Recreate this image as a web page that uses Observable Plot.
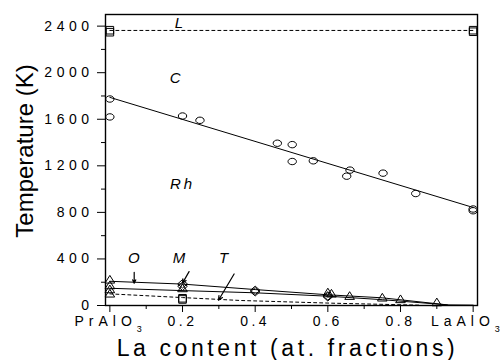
<!DOCTYPE html>
<html>
<head>
<meta charset="utf-8">
<script src="https://cdn.jsdelivr.net/npm/d3@7"></script>
<script src="https://cdn.jsdelivr.net/npm/@observablehq/plot@0.6"></script>
<style>
  html, body { margin: 0; padding: 0; background: #fff; }
  #chart svg { font-family: Arial, "Liberation Sans", sans-serif; color: #000; }
  g[aria-label="y-axis tick label"] text { font-size: 14px; letter-spacing: 4.5px; fill: #000; }
  g[aria-label="x-axis tick label"] text { font-size: 14px; letter-spacing: 3.5px; fill: #000; }
</style>
</head>
<body>
<div id="chart"></div>
<script>
// ---- axis ticks ----
const yMajor = [0, 400, 800, 1200, 1600, 2000, 2400];
const yMinor = [200, 600, 1000, 1400, 1800, 2200];
const xMajor = [0, 0.2, 0.4, 0.6, 0.8, 1.0];
const xMajorLabels = ["PrAlO3", "0.2", "0.4", "0.6", "0.8", "LaAlO3"];
const xMinor = [0.1, 0.3, 0.5, 0.7, 0.9];
const yTitle = "Temperature (K)";
const xTitle = "La content (at. fractions)";

// ---- liquidus (L) ----
const liqPtX = [0, 0, 1, 1];
const liqPtY = [2365, 2348, 2365, 2352];
const liqLineX = [0, 1];
const liqLineY = [2363, 2363];

// ---- cubic -> rhombohedral (circles) ----
const cPtX = [0, 0, 0.2, 0.248, 0.461, 0.502, 0.502, 0.56, 0.661, 0.652, 0.752, 0.842, 1.0, 1.0];
const cPtY = [1774, 1620, 1628, 1591, 1394, 1382, 1237, 1243, 1163, 1111, 1137, 962, 829, 814];
const cLineX = [0, 1];
const cLineY = [1788, 842];

// ---- low-temperature transitions ----
const triX = [0, 0, 0, 0, 0.2, 0.6, 0.61, 0.66, 0.75, 0.8, 0.9];
const triY = [220, 171, 137, 100, 146, 110, 100, 80, 66, 52, 25];
const diaX = [0.2, 0.2, 0.4, 0.4, 0.6, 0.6];
const diaY = [186, 165, 130, 118, 82, 75];
const sqX = [0.2, 0.2];
const sqY = [62, 52];

const upperX = [0, 0.2, 0.4, 0.6, 0.75, 0.93, 1.0];
const upperY = [208, 184, 137, 92, 66, 5, 3];
const lowerX = [0, 0.2, 0.4, 0.6, 0.75, 0.93];
const lowerY = [148, 128, 109, 80, 50, 5];
const dashX = [0, 0.2, 0.36, 0.61, 0.85];
const dashY = [100, 68, 43, 20, 3];

// ---- phase labels ----
const phaseText = ["L", "C", "Rh", "O", "M", "T"];
const phaseX = [0.19, 0.18, 0.2, 0.066, 0.19, 0.313];
const phaseY = [2425, 1956, 1043, 409, 409, 409];

// ---- arrows ----
const arrX1 = [0.067, 0.218, 0.342];
const arrY1 = [285, 291, 271];
const arrX2 = [0.067, 0.2, 0.299];
const arrY2 = [192, 192, 45];

const pts = (xs, ys) => xs.map((x, i) => ({x, y: ys[i]}));

const ellipse = {
  draw(ctx) {
    const rx = 4.2, ry = 3.2, k = 0.5523;
    ctx.moveTo(rx, 0);
    ctx.bezierCurveTo(rx, ry * k, rx * k, ry, 0, ry);
    ctx.bezierCurveTo(-rx * k, ry, -rx, ry * k, -rx, 0);
    ctx.bezierCurveTo(-rx, -ry * k, -rx * k, -ry, 0, -ry);
    ctx.bezierCurveTo(rx * k, -ry, rx, -ry * k, rx, 0);
    ctx.closePath();
  }
};
const diamond = {
  draw(ctx) {
    ctx.moveTo(0, -4.2); ctx.lineTo(4.8, 0); ctx.lineTo(0, 4.2); ctx.lineTo(-4.8, 0); ctx.closePath();
  }
};
const triangle = {
  draw(ctx) {
    ctx.moveTo(0, -4.5); ctx.lineTo(4.8, 3.2); ctx.lineTo(-4.8, 3.2); ctx.closePath();
  }
};
const square = {
  draw(ctx) {
    ctx.moveTo(-3.8, -3.8); ctx.lineTo(3.8, -3.8); ctx.lineTo(3.8, 3.8); ctx.lineTo(-3.8, 3.8); ctx.closePath();
  }
};

const labelMap = new Map(xMajor.map((d, i) => [d, xMajorLabels[i]]));

const chart = Plot.plot({
  width: 502,
  height: 360,
  marginLeft: 105,
  marginRight: 25,
  marginTop: 14,
  marginBottom: 55,
  x: {domain: [-0.012, 1.012]},
  y: {domain: [0, 2500]},
  style: {background: "#fff", color: "#000", fontFamily: "Arial, 'Liberation Sans', sans-serif"},
  marks: [
    Plot.axisY(yMinor, {tickSize: 4, tickFormat: () => "", label: null, stroke: "#000"}),
    Plot.axisY(yMajor, {tickSize: 8, tickPadding: 4, tickFormat: d => String(d), stroke: "#000", label: null}),
    Plot.axisX(xMinor, {tickSize: 4, tickFormat: () => "", label: null, stroke: "#000"}),
    Plot.axisX(xMajor, {tickSize: 7, tickPadding: 4, tickFormat: d => labelMap.get(d), stroke: "#000", label: null}),
    Plot.frame({stroke: "#000", strokeWidth: 1.4}),
    Plot.line(pts(liqLineX, liqLineY), {x: "x", y: "y", stroke: "#000", strokeWidth: 1, strokeDasharray: "3,3"}),
    Plot.line(pts(cLineX, cLineY), {x: "x", y: "y", stroke: "#000", strokeWidth: 1}),
    Plot.line(pts(upperX, upperY), {x: "x", y: "y", stroke: "#000", strokeWidth: 1}),
    Plot.line(pts(lowerX, lowerY), {x: "x", y: "y", stroke: "#000", strokeWidth: 1}),
    Plot.line(pts(dashX, dashY), {x: "x", y: "y", stroke: "#000", strokeWidth: 1, strokeDasharray: "3,3"}),
    Plot.dot(pts(liqPtX, liqPtY), {x: "x", y: "y", symbol: square, stroke: "#000", strokeWidth: 1, fill: "none"}),
    Plot.dot(pts(cPtX, cPtY), {x: "x", y: "y", symbol: ellipse, stroke: "#000", strokeWidth: 1, fill: "none"}),
    Plot.dot(pts(triX, triY), {x: "x", y: "y", symbol: triangle, stroke: "#000", strokeWidth: 1, fill: "none"}),
    Plot.dot(pts(diaX, diaY), {x: "x", y: "y", symbol: diamond, stroke: "#000", strokeWidth: 1, fill: "none"}),
    Plot.dot(pts(sqX, sqY), {x: "x", y: "y", symbol: square, stroke: "#000", strokeWidth: 1, fill: "none"}),
    Plot.arrow(arrX1.map((d, i) => ({x1: d, y1: arrY1[i], x2: arrX2[i], y2: arrY2[i]})),
      {x1: "x1", y1: "y1", x2: "x2", y2: "y2", stroke: "#000", strokeWidth: 1.2, headLength: 6, headAngle: 50}),
    Plot.text(phaseText.map((t, i) => ({t, x: phaseX[i], y: phaseY[i]})),
      {x: "x", y: "y", text: "t", fill: "#000", fontSize: 15, fontStyle: "italic"}),
    Plot.text([yTitle], {frameAnchor: "left", textAnchor: "middle", lineAnchor: "middle", rotate: -90,
      dx: -80, dy: -9, fontSize: 24, fill: "#000"}),
    Plot.text([xTitle], {frameAnchor: "bottom", textAnchor: "middle", lineAnchor: "middle",
      dx: -4, dy: 43, fontSize: 23, fill: "#000"})
  ]
});

document.getElementById("chart").appendChild(chart);

const svg = d3.select(chart);
// subscripts in the formula tick labels
svg.selectAll('g[aria-label="x-axis tick label"] text').each(function () {
  const s = this.textContent;
  if (/AlO3$/.test(s)) {
    const t = d3.select(this);
    t.text("");
    t.append("tspan").text(s.slice(0, -1)).style("letter-spacing", "5px");
    t.append("tspan").text("3").attr("dy", 6).style("font-size", "9px");
    if (s.startsWith("La")) t.attr("dx", -6);
  }
});
// letter spacing for spaced texts
svg.selectAll("text").each(function () {
  const s = this.textContent;
  if (s === "Rh") this.style.letterSpacing = "3px";
  if (s === xTitle) this.style.letterSpacing = "3.6px";
});
</script>
</body>
</html>
